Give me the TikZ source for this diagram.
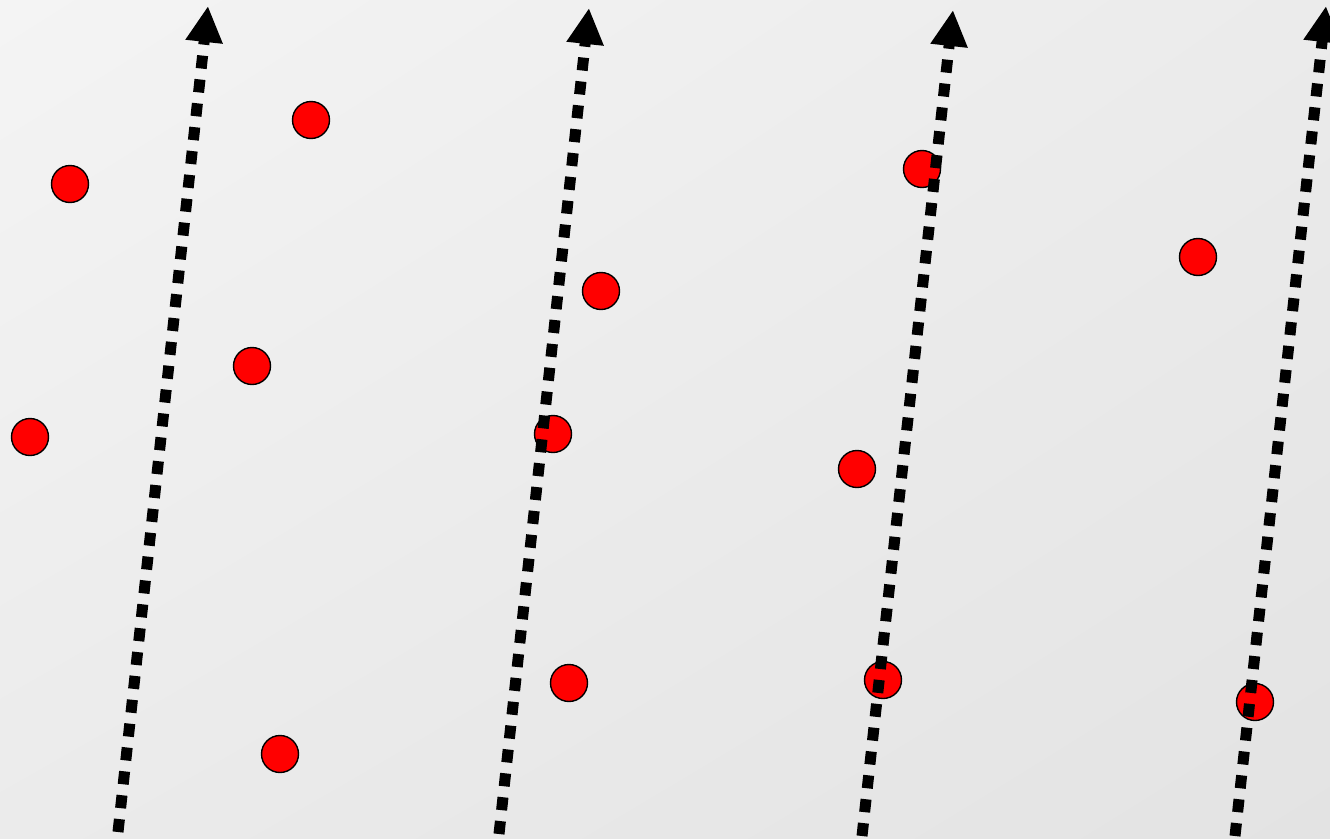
\documentclass[tikz,border=0pt]{standalone}
\usetikzlibrary{arrows.meta,shadings}
\definecolor{bgA}{HTML}{F4F4F4}
\definecolor{bgB}{HTML}{E3E3E3}
\definecolor{bgM}{HTML}{EBEBEB}
\tikzset{
  dot/.style={circle, draw=black, fill=red, line width=1.4pt, minimum size=37pt, inner sep=0pt},
  dottedarrow/.style={line width=11pt, line cap=butt, dash pattern=on 13pt off 11pt, -{Triangle[width=35pt,length=36pt]}}
}
\begin{document}
\begin{tikzpicture}[x=1pt,y=-1pt]
\useasboundingbox (0,0) rectangle (1330,838);
\shade[upper left=bgA, upper right=bgM, lower left=bgM, lower right=bgB] (0,0) rectangle (1330,838);
% dots
\node[dot] (d1) at (70,184) {};
\node[dot] (d2) at (311,120) {};
\node[dot] (d3) at (252,366) {};
\node[dot] (d4) at (30,437) {};
\node[dot] (d5) at (280,754) {};
\node[dot] (d6) at (601,291) {};
\node[dot] (d7) at (553,434) {};
\node[dot] (d8) at (569,683) {};
\node[dot] (d9) at (922,169) {};
\node[dot] (d10) at (857,469) {};
\node[dot] (d11) at (883,680) {};
\node[dot] (d12) at (1198,257) {};
\node[dot] (d13) at (1255,702) {};
% arrows
\coordinate (a1s) at (118,832); \coordinate (a1e) at (208,6);
\coordinate (a2s) at (499,834); \coordinate (a2e) at (589,8);
\coordinate (a3s) at (862,836); \coordinate (a3e) at (953,10);
\coordinate (a4s) at (1235,836); \coordinate (a4e) at (1326,6);
\draw[dottedarrow] (a1s) -- (a1e);
\draw[dottedarrow] (a2s) -- (a2e);
\draw[dottedarrow] (a3s) -- (a3e);
\draw[dottedarrow] (a4s) -- (a4e);
\end{tikzpicture}
\end{document}
